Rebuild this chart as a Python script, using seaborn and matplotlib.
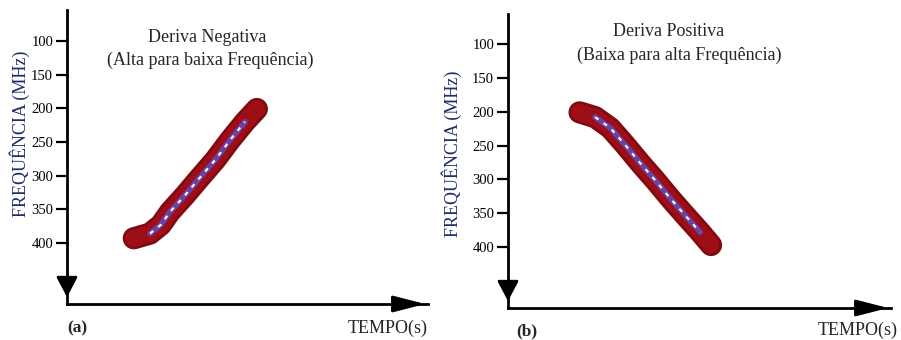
import numpy as np
import pandas as pd
import matplotlib
matplotlib.use("Agg")
import matplotlib.pyplot as plt
import seaborn as sns

# ---- data ----
yticks = [100, 150, 200, 250, 300, 350, 400]
time_a = [18.5, 23.0, 26.0, 28.5, 32.7, 36.8, 41.0, 45.2, 49.3, 52.6]
freq_a = [393, 386, 373, 354, 329, 303, 277, 247, 220, 201]
time_b = [19.8, 24.1, 28.3, 32.4, 36.6, 40.7, 44.9, 49.0, 53.2, 56.2]
freq_b = [201, 208, 224, 249, 276, 301, 328, 353, 378, 397]
titles = [("Deriva Negativa", "(Alta para baixa Frequência)"),
          ("Deriva Positiva", "(Baixa para alta Frequência)")]
panel_tags = ["(a)", "(b)"]
ylabel = "FREQUÊNCIA (MHz)"
xlabel = "TEMPO(s)"

sns.set_theme(style="white")
plt.rcParams["font.family"] = ["Liberation Serif", "DejaVu Serif"]

W, H = 901, 340
fig = plt.figure(figsize=(W / 100, H / 100), dpi=100)


def px_axes(left, top, right, bottom):
    return fig.add_axes([left / W, 1 - bottom / H, (right - left) / W, (bottom - top) / H])


axA = px_axes(67, 10, 428, 304)
axB = px_axes(508, 14, 891, 308)

specs = [
    (axA, time_a, freq_a, (490.6, 54.0), (0, 100)),
    (axB, time_b, freq_b, (490.0, 55.7), (0, 106)),
]

for ax, t, f, ylim, xlim in specs:
    df = pd.DataFrame({"t": t, "f": f})
    sns.lineplot(data=df, x="t", y="f", ax=ax, sort=False, color="#800a10",
                 linewidth=16, solid_capstyle="round", solid_joinstyle="round")
    sns.lineplot(data=df, x="t", y="f", ax=ax, sort=False, color="#9e0e17",
                 linewidth=12, solid_capstyle="round", solid_joinstyle="round")
    sns.lineplot(data=df.iloc[1:-1], x="t", y="f", ax=ax, sort=False, color="#5656d6",
                 linewidth=4, alpha=0.75)
    ax.plot(df["t"].iloc[1:-1], df["f"].iloc[1:-1], color="white", lw=1.5,
            linestyle=(0, (2, 3)))
    ax.set_ylim(*ylim)
    ax.set_xlim(*xlim)
    ax.set_yticks(yticks)
    ax.set_yticklabels([str(v) for v in yticks])
    ax.set_xticks([])
    ax.set_xlabel("")
    ax.set_ylabel("")
    for s in ["top", "right"]:
        ax.spines[s].set_visible(False)
    for s in ["left", "bottom"]:
        ax.spines[s].set_linewidth(2)
        ax.spines[s].set_color("black")
    ax.tick_params(axis="y", direction="out", length=8, width=1.6,
                   labelsize=10.5, pad=2, colors="black", left=True)
    ax.patch.set_alpha(0)
    # arrow heads
    ax.annotate("", xy=(1.0, 0), xytext=(0.9, 0), xycoords="axes fraction",
                arrowprops=dict(arrowstyle="-|>,head_length=1.4,head_width=0.36",
                                color="black", lw=2, mutation_scale=14),
                annotation_clip=False)
    ax.annotate("", xy=(0, 0.014), xytext=(0, 0.09), xycoords="axes fraction",
                arrowprops=dict(arrowstyle="-|>,head_length=0.87,head_width=0.46",
                                color="black", lw=2, mutation_scale=14),
                annotation_clip=False)

axA.set_ylabel(ylabel, fontsize=13, color="#1f2d6b")
axA.yaxis.set_label_coords(-0.102, 0.58)
axB.set_ylabel(ylabel, fontsize=13, color="#1f2d6b")
axB.yaxis.set_label_coords(-0.12, 0.525)

# titles
fig.text(207 / W, 1 - 37 / H, titles[0][0], ha="center", va="center", fontsize=13)
fig.text(210 / W, 1 - 60 / H, titles[0][1], ha="center", va="center", fontsize=13)
fig.text(669 / W, 1 - 32 / H, titles[1][0], ha="center", va="center", fontsize=13)
fig.text(679 / W, 1 - 55 / H, titles[1][1], ha="center", va="center", fontsize=13)

fig.text(77 / W, 1 - 328 / H, panel_tags[0], ha="center", va="center", fontsize=12.5,
         fontweight="bold")
fig.text(527 / W, 1 - 331 / H, panel_tags[1], ha="center", va="center", fontsize=12.5,
         fontweight="bold")
fig.text(428 / W, 1 - 328 / H, xlabel, ha="right", va="center", fontsize=13)
fig.text(898 / W, 1 - 330 / H, xlabel, ha="right", va="center", fontsize=13)

fig.savefig("out.png", dpi=100)
